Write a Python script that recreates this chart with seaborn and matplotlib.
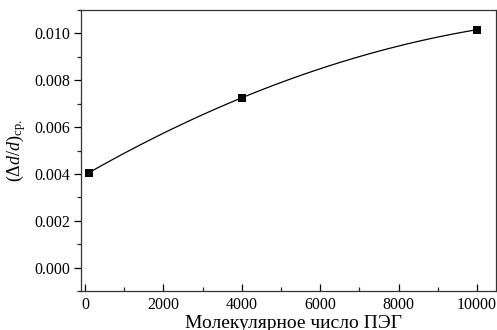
import numpy as np
import pandas as pd
import matplotlib
matplotlib.use("Agg")
import matplotlib.pyplot as plt
import seaborn as sns
from matplotlib.ticker import MultipleLocator

mol_number = [100, 4000, 10000]
ratio = [0.00405, 0.00725, 0.01016]
x_ticks = [0, 2000, 4000, 6000, 8000, 10000]
y_ticks = [0.000, 0.002, 0.004, 0.006, 0.008, 0.010]

sns.set_theme(style="ticks")
plt.rcParams['font.family'] = ['Liberation Serif', 'DejaVu Serif']
plt.rcParams['mathtext.fontset'] = 'custom'
plt.rcParams['mathtext.rm'] = 'Liberation Serif'
plt.rcParams['mathtext.it'] = 'Liberation Serif:italic'

df = pd.DataFrame({"M": mol_number, "r": ratio})

fig = plt.figure(figsize=(4.97, 3.30), dpi=100)
ax = fig.add_axes([81/497, 1-291/330, (495.5-81)/497, (291-10)/330])

sns.regplot(data=df, x="M", y="r", order=2, ci=None, truncate=True, ax=ax,
            marker="s", color="black",
            scatter_kws=dict(s=26, zorder=3, linewidths=0, alpha=1),
            line_kws=dict(lw=0.9, color="black"))

ax.set_xlim(-100, 10470)
ax.set_ylim(-0.001, 0.011)
ax.set_xticks(x_ticks)
ax.set_xticklabels([str(v) for v in x_ticks])
ax.set_yticks(y_ticks)
ax.set_yticklabels([f"{v:.3f}" for v in y_ticks])
ax.xaxis.set_minor_locator(MultipleLocator(1000))
ax.yaxis.set_minor_locator(MultipleLocator(0.001))

ax.tick_params(axis='x', which='major', direction='in', length=5, width=0.9, labelsize=11.5, pad=4, colors='black')
ax.tick_params(axis='x', which='minor', direction='in', length=3, width=0.9)
ax.tick_params(axis='y', which='major', direction='out', length=5, width=0.9, labelsize=11.5, pad=3, colors='black')
ax.tick_params(axis='y', which='minor', direction='out', length=3, width=0.9)
for s in ax.spines.values():
    s.set_visible(True)
    s.set_linewidth(0.9)
    s.set_color('#333333')

ax.set_xlabel("Молекулярное число ПЭГ", fontsize=14, color='black')
ax.xaxis.set_label_coords((293.5-81)/414.5, -(327.5-291)/281)
ax.xaxis.label.set_va('baseline')
ax.set_ylabel(r"$(\Delta d/d)_{\mathrm{ср.}}$", fontsize=13, labelpad=4, color='black')

fig.savefig("out.png", dpi=100)
